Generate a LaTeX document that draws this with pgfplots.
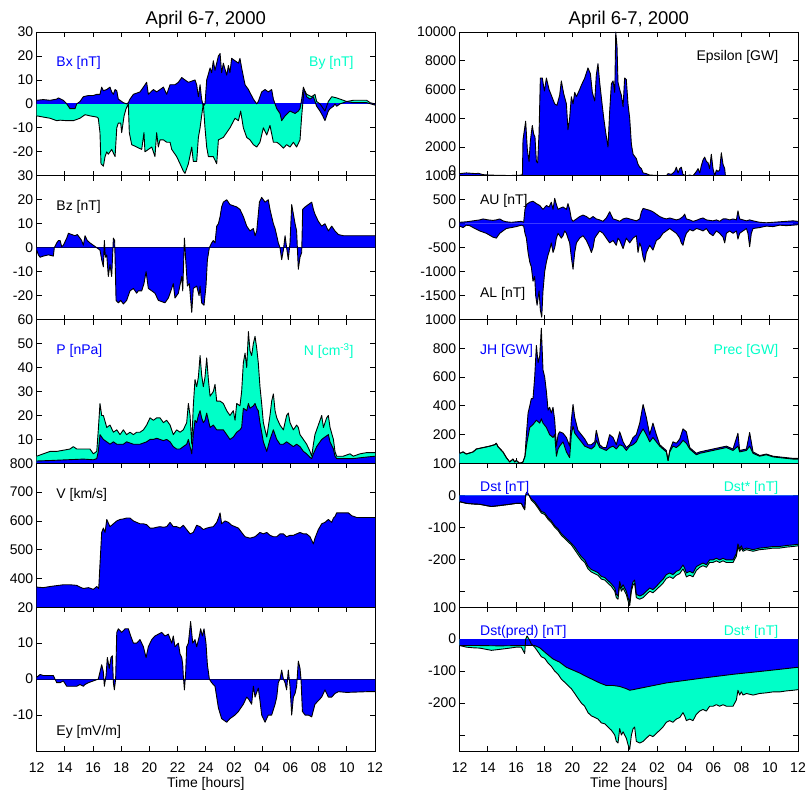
\documentclass[border=0pt]{standalone}
\usepackage{pgfplots}
\pgfplotsset{compat=1.18}
\usepackage{pgfplotstable}
\usepackage{fontspec}
\setmainfont{Liberation Sans}
\definecolor{cb}{RGB}{0,0,255}
\definecolor{cc}{RGB}{0,255,200}
\definecolor{zl}{RGB}{0,0,110}

% ---------------- Left column ----------------
\pgfplotstableread[row sep=\\]{t v\\
12.00 -5\\ 12.47 -5.5\\ 12.95 -6\\ 13.42 -7\\ 13.66 -6.8\\ 14.13 -7\\ 14.60 -7\\ 15.07 -6\\ 15.43 -4.5\\ 15.78 -5\\ 16.26 -5.5\\ 16.37 -6\\
16.49 -12\\ 16.56 -25\\ 16.73 -26\\ 16.85 -22\\ 16.97 -20\\ 17.08 -21\\ 17.32 -19\\ 17.56 -22\\ 17.68 -10\\ 17.79 -8\\ 17.96 -8\\ 18.03 -12\\
18.20 -5\\ 18.34 -2\\ 18.50 0\\ 18.57 -12\\ 18.74 -17\\ 19.09 -18\\ 19.45 -19\\ 19.61 -12\\ 19.68 -20\\ 19.92 -19\\ 20.16 -18\\ 20.28 -20\\
20.39 -22\\ 20.51 -12\\ 20.63 -18\\ 20.75 -15\\ 20.99 -15\\ 21.22 -16\\ 21.46 -16\\ 21.58 -19\\ 21.93 -22\\ 22.17 -25\\ 22.40 -28\\ 22.52 -29\\
22.76 -25\\ 23.00 -18\\ 23.11 -24\\ 23.35 -24\\ 23.47 -14\\ 23.59 -10\\ 23.70 -5\\ 23.82 0\\ 23.94 -10\\ 24.06 -18\\ 24.18 -22\\ 24.53 -22\\
24.77 -25\\ 24.89 -15\\ 25.24 -14\\ 25.71 -10\\ 26.07 -6\\ 26.31 -7\\ 26.47 -3\\ 26.66 -10\\ 26.90 -14\\ 27.13 -15\\ 27.37 -17\\ 27.61 -18\\
27.84 -16\\ 28.08 -10\\ 28.32 -13\\ 28.55 -9\\ 28.79 -16\\ 29.03 -16\\ 29.26 -17\\ 29.50 -18.5\\ 29.73 -17\\ 29.97 -18\\ 30.21 -16\\ 30.44 -18\\
30.68 -15\\ 30.80 -5\\ 30.92 3\\ 30.97 6\\ 31.15 4\\ 31.51 3\\ 31.74 4\\ 31.86 1\\ 32.10 0\\ 32.45 -3\\ 32.69 1\\ 32.93 3\\ 33.28 2.5\\ 33.52 2\\
33.99 1\\ 34.46 1.5\\ 34.94 1.5\\ 35.41 1.5\\ 35.65 0.5\\ 36.00 0\\
}\tBy

\pgfplotstableread[row sep=\\]{t v\\
12.00 1.5\\ 12.47 1.8\\ 12.95 1.5\\ 13.42 2\\ 13.54 2.5\\ 13.89 1.5\\ 14.13 0\\ 14.36 -2\\ 14.72 -2\\ 14.84 0\\ 15.07 1\\ 15.31 3\\ 15.67 3.5\\
16.02 3.5\\ 16.26 4\\ 16.49 4\\ 16.61 7\\ 16.73 5.5\\ 16.97 6\\ 17.20 7\\ 17.32 5\\ 17.44 4\\ 17.56 6\\ 17.68 5.5\\ 17.79 2\\ 18.15 0.5\\ 18.38 0\\
18.50 0.5\\ 18.62 2\\ 18.86 4\\ 19.33 5\\ 19.57 7\\ 19.80 9\\ 19.92 4\\ 20.28 6\\ 20.51 5\\ 20.99 7\\ 21.22 4\\ 21.46 8\\ 21.81 8\\ 22.05 9\\
22.29 11\\ 22.52 10\\ 22.76 9\\ 23.00 9.5\\ 23.23 10\\ 23.35 8\\ 23.47 3\\ 23.59 8\\ 23.70 2\\ 23.82 -1\\ 23.94 0\\ 24.06 10\\ 24.30 15\\
24.41 13\\ 24.53 18\\ 24.65 14\\ 24.89 20\\ 25.01 21\\ 25.12 13\\ 25.24 17\\ 25.48 12\\ 25.60 16\\ 25.71 13\\ 25.83 19\\ 26.07 18\\ 26.31 17\\
26.42 19\\ 26.54 15\\ 26.78 8\\ 27.02 6\\ 27.37 2\\ 27.61 0\\ 27.72 1\\ 27.96 5\\ 28.20 6\\ 28.43 5\\ 28.67 6\\ 28.79 2\\ 28.91 0\\ 29.03 -2\\
29.26 -4\\ 29.38 -7\\ 29.62 -5\\ 29.97 -3\\ 30.33 -4\\ 30.56 -3\\ 30.68 -2\\ 30.80 2\\ 30.92 7\\ 31.04 5\\ 31.15 3\\ 31.39 2\\ 31.63 3\\ 31.86 -1\\
32.10 -3\\ 32.29 -5\\ 32.45 -7\\ 32.69 -3\\ 32.81 -2\\ 33.05 -1\\ 33.16 0\\ 33.28 -1\\ 33.52 0\\ 33.99 1\\ 34.46 0.5\\ 34.94 0.5\\ 35.41 0.5\\ 36.00 -0.5\\
}\tBx

\pgfplotstableread[row sep=\\]{t v\\
12.00 -1\\ 12.12 -3\\ 12.24 -4\\ 12.47 -3.5\\ 12.83 -3\\ 13.18 -3.5\\ 13.25 0\\ 13.42 2\\ 13.54 3\\ 13.66 3\\ 13.77 0.5\\ 13.89 1\\ 14.13 4\\
14.25 6\\ 14.48 5.5\\ 14.72 5\\ 14.88 5.5\\ 15.07 4\\ 15.19 3\\ 15.31 1\\ 15.43 5\\ 15.59 3\\ 15.78 2\\ 16.14 0.5\\ 16.26 0\\ 16.49 -1\\ 16.61 -5\\
16.73 -8\\ 16.80 3\\ 16.87 -4\\ 16.97 -3\\ 17.08 -12\\ 17.20 -7\\ 17.32 -12\\ 17.44 4\\ 17.53 3\\ 17.63 -22\\ 17.79 -23\\ 17.96 -22\\ 18.15 -23.5\\
18.38 -22\\ 18.62 -18\\ 18.86 -17\\ 19.09 -19\\ 19.21 -18\\ 19.45 -18\\ 19.61 -15\\ 19.76 -10\\ 19.92 -17\\ 20.16 -18\\ 20.39 -19\\ 20.63 -22\\
20.87 -22.5\\ 21.10 -23\\ 21.34 -21\\ 21.46 -19\\ 21.69 -15\\ 21.81 -21\\ 22.05 -19\\ 22.29 -12\\ 22.36 -18\\ 22.48 4\\ 22.57 -5\\ 22.69 -16\\
22.83 -15\\ 23.00 -27\\ 23.11 -17\\ 23.35 -16\\ 23.52 -20\\ 23.59 -16\\ 23.70 -23\\ 23.87 -24\\ 24.01 -16\\ 24.11 -5\\ 24.25 0\\ 24.41 2\\ 24.53 3\\
24.65 2\\ 24.77 9\\ 24.89 10\\ 25.01 13\\ 25.12 17\\ 25.24 19\\ 25.48 20\\ 25.71 18\\ 25.95 17.5\\ 26.19 17\\ 26.42 16\\ 26.66 13\\ 26.90 9\\
27.13 7\\ 27.37 8\\ 27.49 5\\ 27.61 7\\ 27.80 19\\ 27.96 21\\ 28.20 19\\ 28.43 20\\ 28.55 16\\ 28.79 10\\ 28.91 8\\ 29.03 5\\ 29.14 2\\ 29.26 0\\
29.38 -5\\ 29.50 -1\\ 29.62 5\\ 29.73 0\\ 29.85 -5\\ 29.97 2\\ 30.09 18\\ 30.21 14\\ 30.33 10\\ 30.44 7\\ 30.56 -9\\ 30.68 -4\\ 30.80 -2\\ 30.87 16\\
31.04 17\\ 31.27 18\\ 31.51 19\\ 31.63 16\\ 31.74 14\\ 31.98 11\\ 32.22 9\\ 32.45 10\\ 32.69 7\\ 32.93 9\\ 33.16 7\\ 33.40 5.5\\ 33.75 5\\ 34.46 5\\
35.17 5\\ 36.00 5\\
}\tBz

\pgfplotstableread[row sep=\\]{t v\\
12.00 3\\ 12.47 4\\ 12.95 5\\ 13.42 5\\ 13.89 5.5\\ 14.36 6\\ 14.60 7\\ 14.84 6\\ 15.31 6\\ 15.78 6\\ 16.02 4\\ 16.26 5\\ 16.37 14\\ 16.49 25\\
16.61 20\\ 16.73 20\\ 16.97 15\\ 17.20 16\\ 17.44 13\\ 17.68 14\\ 17.91 12\\ 18.15 14\\ 18.38 12\\ 18.62 13\\ 18.86 12\\ 19.09 13\\ 19.33 13\\
19.57 14\\ 19.80 16\\ 20.04 19\\ 20.28 18\\ 20.51 19\\ 20.75 19\\ 20.99 17\\ 21.22 18\\ 21.46 16\\ 21.69 12\\ 21.93 14\\ 22.17 13\\ 22.40 14\\
22.64 17\\ 22.76 25\\ 22.88 20\\ 23.00 8\\ 23.11 24\\ 23.23 35\\ 23.35 32\\ 23.47 36\\ 23.59 45\\ 23.70 37\\ 23.82 32\\ 23.94 36\\ 24.06 44\\
24.18 35\\ 24.30 28\\ 24.53 30\\ 24.65 33\\ 24.77 26\\ 25.01 26\\ 25.24 25\\ 25.48 22\\ 25.71 20\\ 25.95 22\\ 26.07 18\\ 26.19 25\\ 26.42 24\\
26.54 30\\ 26.66 42\\ 26.78 46\\ 26.90 40\\ 27.02 55\\ 27.13 47\\ 27.25 45\\ 27.37 50\\ 27.49 53\\ 27.61 48\\ 27.72 42\\ 27.84 32\\ 27.96 25\\
28.08 17\\ 28.32 11\\ 28.55 20\\ 28.67 26\\ 28.79 29\\ 28.91 22\\ 29.03 19\\ 29.26 16\\ 29.50 14\\ 29.73 20\\ 29.85 21\\ 29.97 17\\ 30.21 14\\
30.44 16\\ 30.56 15\\ 30.68 12\\ 30.92 10\\ 31.15 8\\ 31.39 5\\ 31.51 3\\ 31.63 8\\ 31.74 12\\ 31.98 16\\ 32.22 20\\ 32.34 15\\ 32.57 19\\ 32.69 20\\
32.81 15\\ 33.05 10\\ 33.16 5\\ 33.28 3\\ 33.75 3\\ 34.23 4\\ 34.46 3\\ 34.94 4\\ 35.41 4.5\\ 36.00 4.5\\
}\tN

\pgfplotstableread[row sep=\\]{t v\\
12.00 1\\ 12.95 1.2\\ 14.13 1.5\\ 15.31 1.8\\ 16.02 1.5\\ 16.26 2\\ 16.37 5\\ 16.49 12\\ 16.73 10\\ 16.97 9\\ 17.20 8\\ 17.44 9\\ 17.68 8\\
18.15 8\\ 18.38 9\\ 18.86 8\\ 19.33 8\\ 19.80 9\\ 20.04 10\\ 20.28 10\\ 20.51 10.5\\ 20.75 10\\ 20.99 9.5\\ 21.22 10\\ 21.46 9\\ 21.69 7\\ 21.93 6\\
22.17 6\\ 22.40 7\\ 22.64 8\\ 22.76 10\\ 22.88 7\\ 23.00 4\\ 23.11 12\\ 23.23 18\\ 23.35 17\\ 23.47 20\\ 23.59 22\\ 23.70 19\\ 23.82 17\\ 23.94 18\\
24.06 21\\ 24.18 18\\ 24.30 15\\ 24.53 16\\ 24.77 14\\ 25.01 14\\ 25.24 14\\ 25.48 12\\ 25.71 10\\ 25.95 11\\ 26.19 13\\ 26.42 14\\ 26.54 15\\
26.66 23\\ 26.90 22\\ 27.02 25\\ 27.13 23\\ 27.37 24\\ 27.49 25\\ 27.61 23\\ 27.72 22\\ 27.84 17\\ 27.96 13\\ 28.08 9\\ 28.32 5\\ 28.55 10\\ 28.79 14\\
28.91 12\\ 29.03 10\\ 29.26 8\\ 29.50 8\\ 29.73 9\\ 29.97 8\\ 30.21 7\\ 30.44 8\\ 30.68 7\\ 30.92 5\\ 31.15 4\\ 31.39 2.5\\ 31.51 2\\ 31.63 4\\
31.86 7\\ 32.10 9\\ 32.22 10\\ 32.45 11\\ 32.69 12\\ 32.81 9\\ 33.05 6\\ 33.16 3\\ 33.28 2\\ 33.75 2\\ 34.46 2\\ 35.17 2.5\\ 36.00 3\\
}\tP

\pgfplotstableread[row sep=\\]{t v\\
12.00 370\\ 12.47 368\\ 12.95 372\\ 13.42 375\\ 13.89 378\\ 14.36 378\\ 14.84 376\\ 15.07 370\\ 15.31 365\\ 15.67 368\\ 16.02 362\\ 16.26 372\\
16.40 365\\ 16.49 450\\ 16.61 560\\ 16.73 575\\ 16.85 560\\ 16.97 605\\ 17.20 580\\ 17.44 590\\ 17.68 600\\ 17.91 605\\ 18.15 607\\ 18.38 610\\
18.62 610\\ 18.86 600\\ 19.09 595\\ 19.33 590\\ 19.57 590\\ 19.80 587\\ 20.04 575\\ 20.28 575\\ 20.51 578\\ 20.75 580\\ 20.99 578\\ 21.22 580\\
21.46 595\\ 21.69 580\\ 21.93 580\\ 22.17 575\\ 22.40 585\\ 22.64 570\\ 22.88 555\\ 23.11 560\\ 23.35 585\\ 23.59 580\\ 23.82 570\\ 24.06 575\\
24.30 578\\ 24.53 580\\ 24.77 595\\ 24.89 610\\ 25.01 628\\ 25.12 590\\ 25.36 600\\ 25.60 595\\ 25.83 585\\ 26.07 580\\ 26.31 575\\ 26.54 560\\
26.78 545\\ 27.13 540\\ 27.49 545\\ 27.84 560\\ 28.08 555\\ 28.32 560\\ 28.55 550\\ 28.79 545\\ 29.03 545\\ 29.26 555\\ 29.50 555\\ 29.73 545\\
29.97 550\\ 30.21 550\\ 30.44 555\\ 30.68 560\\ 30.92 555\\ 31.15 555\\ 31.39 545\\ 31.63 520\\ 31.74 540\\ 31.98 570\\ 32.22 590\\ 32.45 595\\
32.69 605\\ 32.93 595\\ 33.05 610\\ 33.16 615\\ 33.28 628\\ 33.75 628\\ 34.11 628\\ 34.35 618\\ 34.70 612\\ 35.17 612\\ 35.65 612\\ 36.00 612\\
}\tV

\pgfplotstableread[row sep=\\]{t v\\
12.00 0.5\\ 12.24 1.3\\ 12.47 1.0\\ 12.95 1.0\\ 13.18 1.0\\ 13.30 0\\ 13.42 -1\\ 13.66 -1\\ 13.89 -0.5\\ 14.13 -2\\ 14.48 -2\\ 14.84 -2\\ 15.07 -1.5\\
15.31 -2\\ 15.43 -1.5\\ 15.67 -1\\ 16.02 -0.5\\ 16.37 0\\ 16.49 2\\ 16.61 4\\ 16.73 2\\ 16.80 -2\\ 16.92 1\\ 17.01 6\\ 17.15 3\\ 17.27 6\\ 17.37 6.5\\
17.44 -1\\ 17.51 -3\\ 17.60 0\\ 17.68 13\\ 17.79 14\\ 18.03 13\\ 18.27 14\\ 18.50 14\\ 18.67 12\\ 18.86 10\\ 19.09 10\\ 19.33 11\\ 19.57 9\\ 19.76 6\\
19.92 9\\ 20.16 11\\ 20.39 12\\ 20.63 12.5\\ 20.87 13\\ 21.10 12\\ 21.34 12.5\\ 21.58 10\\ 21.69 12\\ 21.81 9\\ 22.05 10\\ 22.17 7\\ 22.29 6\\ 22.36 4\\
22.40 1\\ 22.48 -3\\ 22.57 2\\ 22.64 9\\ 22.76 10\\ 22.92 16\\ 23.07 10\\ 23.23 11\\ 23.35 9\\ 23.54 12\\ 23.63 14\\ 23.75 12\\ 23.87 14\\ 24.01 10\\
24.11 4\\ 24.25 0\\ 24.41 -1\\ 24.65 -2\\ 24.77 -5\\ 24.89 -8\\ 25.12 -11\\ 25.48 -12\\ 25.71 -11\\ 26.07 -10\\ 26.31 -9\\ 26.66 -7\\ 26.90 -5\\
27.02 -5.5\\ 27.25 -7\\ 27.37 -2\\ 27.49 -5\\ 27.72 -2.5\\ 27.84 -6\\ 27.96 -10\\ 28.20 -12\\ 28.43 -10\\ 28.67 -10\\ 28.91 -7\\ 29.03 -5\\ 29.14 -1\\
29.26 0\\ 29.38 2.5\\ 29.50 0\\ 29.62 -1\\ 29.73 -3\\ 29.85 2.5\\ 29.97 -2\\ 30.09 -10\\ 30.21 -5\\ 30.33 -4\\ 30.44 -2\\ 30.56 5\\ 30.68 3\\ 30.75 0\\
30.85 -9\\ 31.04 -10\\ 31.27 -10\\ 31.51 -10.5\\ 31.74 -7\\ 31.98 -6\\ 32.22 -5\\ 32.45 -3\\ 32.69 -5\\ 32.93 -5\\ 33.16 -4\\ 33.40 -3.5\\ 33.99 -3.7\\
34.70 -3.6\\ 35.41 -3.5\\ 36.00 -3.5\\
}\tEy

% ---------------- Right column ----------------
\pgfplotstableread[row sep=\\]{t v\\
12.00 150\\ 12.47 200\\ 13.18 150\\ 13.30 180\\ 13.66 80\\ 14.13 50\\ 14.84 30\\ 15.55 20\\ 16.26 40\\ 16.37 50\\ 16.45 100\\ 16.49 2500\\
16.68 3800\\ 16.80 1800\\ 16.92 1000\\ 17.01 2400\\ 17.15 3500\\ 17.25 2900\\ 17.34 2700\\ 17.44 1000\\ 17.53 900\\ 17.63 3000\\ 17.72 6800\\
17.86 6800\\ 18.01 5900\\ 18.15 6800\\ 18.34 6000\\ 18.50 5600\\ 18.74 5000\\ 18.90 4900\\ 19.09 5600\\ 19.21 6600\\ 19.38 5700\\ 19.57 5000\\
19.68 3200\\ 19.80 4000\\ 19.92 5500\\ 20.04 5000\\ 20.16 5800\\ 20.28 5500\\ 20.51 6000\\ 20.63 6300\\ 20.87 6800\\ 21.10 7500\\ 21.27 7100\\
21.41 5800\\ 21.58 5200\\ 21.69 7000\\ 21.81 7800\\ 21.93 6500\\ 22.10 5000\\ 22.22 4000\\ 22.36 3000\\ 22.52 2000\\ 22.64 4500\\ 22.76 6400\\
22.88 6600\\ 23.00 5800\\ 23.07 10000\\ 23.16 9000\\ 23.23 6500\\ 23.35 6000\\ 23.47 5600\\ 23.59 4800\\ 23.70 6800\\ 23.82 6700\\ 23.94 5000\\
24.06 4000\\ 24.18 2200\\ 24.30 1500\\ 24.53 1200\\ 24.65 800\\ 24.77 600\\ 24.89 500\\ 25.01 200\\ 25.24 150\\ 25.48 50\\ 25.95 30\\ 26.66 0\\
26.78 150\\ 27.02 100\\ 27.25 300\\ 27.37 600\\ 27.49 200\\ 27.61 500\\ 27.72 600\\ 27.84 100\\ 28.08 0\\ 28.32 50\\ 28.55 0\\ 28.79 300\\ 28.91 500\\
29.03 200\\ 29.14 700\\ 29.26 1100\\ 29.38 1300\\ 29.50 1000\\ 29.62 900\\ 29.73 500\\ 29.85 1500\\ 29.97 500\\ 30.09 0\\ 30.21 400\\ 30.33 300\\
30.44 400\\ 30.56 1600\\ 30.68 800\\ 30.80 500\\ 30.85 0\\
}\tEps

\pgfplotstableread[row sep=\\]{t v\\
12.00 30\\ 12.47 40\\ 12.95 60\\ 13.42 80\\ 13.66 100\\ 14.01 80\\ 14.36 70\\ 14.60 80\\ 14.84 100\\ 15.07 60\\ 15.31 40\\ 15.67 30\\ 16.02 40\\
16.37 50\\ 16.54 30\\ 16.63 300\\ 16.73 400\\ 16.97 450\\ 17.20 470\\ 17.44 420\\ 17.68 380\\ 17.91 300\\ 18.15 380\\ 18.34 350\\ 18.50 450\\
18.62 300\\ 18.74 530\\ 18.86 400\\ 18.98 300\\ 19.09 320\\ 19.33 350\\ 19.57 300\\ 19.68 420\\ 19.80 300\\ 19.92 100\\ 20.04 50\\ 20.28 100\\
20.51 150\\ 20.75 180\\ 20.99 150\\ 21.22 100\\ 21.46 150\\ 21.69 100\\ 21.93 80\\ 22.17 50\\ 22.40 120\\ 22.64 250\\ 22.88 100\\ 23.11 80\\
23.35 50\\ 23.59 100\\ 23.82 120\\ 24.06 100\\ 24.30 80\\ 24.53 60\\ 24.77 100\\ 24.89 250\\ 25.01 320\\ 25.24 300\\ 25.48 280\\ 25.71 250\\
25.95 200\\ 26.19 150\\ 26.42 120\\ 26.66 100\\ 26.90 120\\ 27.13 100\\ 27.37 80\\ 27.61 100\\ 27.84 150\\ 27.96 200\\ 28.08 100\\ 28.32 80\\
28.55 50\\ 28.79 70\\ 29.03 100\\ 29.26 120\\ 29.50 80\\ 29.73 70\\ 29.97 60\\ 30.21 80\\ 30.44 50\\ 30.68 100\\ 30.92 100\\ 31.15 80\\ 31.39 100\\
31.63 80\\ 31.74 270\\ 31.86 100\\ 32.10 80\\ 32.34 60\\ 32.57 80\\ 32.81 60\\ 33.28 30\\ 33.75 20\\ 34.23 30\\ 34.70 40\\ 35.17 50\\ 35.65 60\\ 36.00 50\\
}\tAU

\pgfplotstableread[row sep=\\]{t v\\
12.00 -50\\ 12.24 -80\\ 12.47 -30\\ 12.71 -40\\ 12.95 -80\\ 13.42 -150\\ 13.89 -200\\ 14.36 -280\\ 14.60 -300\\ 14.84 -200\\ 15.07 -150\\
15.31 -100\\ 15.67 -80\\ 16.02 -60\\ 16.37 -30\\ 16.54 -50\\ 16.63 -200\\ 16.73 -300\\ 16.85 -600\\ 16.97 -800\\ 17.08 -900\\ 17.20 -1200\\
17.32 -1100\\ 17.39 -1500\\ 17.49 -1700\\ 17.63 -1400\\ 17.72 -1800\\ 17.82 -1950\\ 17.91 -1400\\ 18.03 -1000\\ 18.15 -800\\ 18.27 -650\\
18.38 -550\\ 18.50 -400\\ 18.62 -600\\ 18.74 -500\\ 18.86 -300\\ 18.98 -200\\ 19.09 -250\\ 19.21 -300\\ 19.33 -250\\ 19.45 -150\\ 19.57 -200\\
19.68 -300\\ 19.80 -400\\ 19.92 -700\\ 20.04 -950\\ 20.16 -600\\ 20.28 -400\\ 20.51 -300\\ 20.75 -250\\ 20.99 -350\\ 21.22 -500\\ 21.34 -600\\
21.46 -500\\ 21.58 -300\\ 21.69 -250\\ 21.93 -150\\ 22.17 -200\\ 22.40 -300\\ 22.64 -400\\ 22.88 -350\\ 23.11 -450\\ 23.23 -300\\ 23.35 -350\\
23.59 -520\\ 23.82 -300\\ 24.06 -400\\ 24.30 -300\\ 24.53 -250\\ 24.65 -600\\ 24.77 -400\\ 24.89 -500\\ 25.01 -700\\ 25.12 -800\\ 25.24 -600\\
25.48 -450\\ 25.71 -550\\ 25.95 -350\\ 26.19 -300\\ 26.42 -200\\ 26.66 -150\\ 26.90 -100\\ 27.13 -150\\ 27.37 -200\\ 27.61 -300\\ 27.72 -400\\
27.84 -450\\ 27.96 -300\\ 28.08 -200\\ 28.32 -120\\ 28.55 -150\\ 28.79 -100\\ 29.03 -120\\ 29.26 -150\\ 29.50 -100\\ 29.73 -200\\ 29.97 -250\\
30.21 -150\\ 30.44 -200\\ 30.68 -280\\ 30.80 -400\\ 30.92 -200\\ 31.15 -150\\ 31.39 -200\\ 31.63 -150\\ 31.74 -320\\ 31.86 -200\\ 32.10 -150\\
32.34 -100\\ 32.45 -200\\ 32.57 -480\\ 32.69 -200\\ 32.81 -100\\ 33.28 -80\\ 33.75 -50\\ 34.23 -60\\ 34.70 -30\\ 35.17 -40\\ 35.65 -30\\ 36.00 -20\\
}\tAL

\pgfplotstableread[row sep=\\]{t v\\
12.00 70\\ 12.24 80\\ 12.47 65\\ 12.95 80\\ 13.18 100\\ 13.66 110\\ 14.13 120\\ 14.48 130\\ 14.60 140\\ 14.72 115\\ 15.07 80\\ 15.31 40\\
15.55 10\\ 15.78 30\\ 15.90 10\\ 16.02 20\\ 16.26 0\\ 16.49 10\\ 16.63 50\\ 16.73 200\\ 16.85 350\\ 16.97 400\\ 17.08 450\\ 17.20 450\\ 17.32 600\\
17.44 820\\ 17.56 700\\ 17.68 750\\ 17.79 940\\ 17.91 650\\ 18.03 600\\ 18.15 500\\ 18.27 370\\ 18.38 390\\ 18.50 350\\ 18.62 390\\ 18.74 300\\
18.86 120\\ 18.98 200\\ 19.09 220\\ 19.33 210\\ 19.57 180\\ 19.80 120\\ 19.92 300\\ 20.04 410\\ 20.16 320\\ 20.39 230\\ 20.63 200\\ 20.87 170\\
21.10 130\\ 21.34 130\\ 21.58 150\\ 21.69 230\\ 21.93 130\\ 22.17 110\\ 22.40 110\\ 22.64 200\\ 22.88 180\\ 23.11 130\\ 23.35 220\\ 23.59 150\\
23.82 110\\ 24.06 130\\ 24.30 180\\ 24.53 200\\ 24.77 280\\ 25.01 410\\ 25.24 320\\ 25.48 200\\ 25.71 280\\ 25.95 200\\ 26.19 130\\ 26.42 110\\
26.66 90\\ 26.78 20\\ 26.90 90\\ 27.13 150\\ 27.37 140\\ 27.61 170\\ 27.84 240\\ 28.08 220\\ 28.32 110\\ 28.55 90\\ 28.79 70\\ 29.03 80\\ 29.50 90\\
29.97 100\\ 30.44 110\\ 30.92 120\\ 31.39 100\\ 31.74 210\\ 31.86 90\\ 32.34 100\\ 32.57 215\\ 32.81 80\\ 33.28 55\\ 33.75 65\\ 34.23 50\\ 34.70 45\\
35.17 40\\ 35.65 35\\ 36.00 35\\
}\tJH

\pgfplotstableread[row sep=\\]{t v\\
12.00 70\\ 12.24 80\\ 12.47 65\\ 12.95 80\\ 13.18 100\\ 13.66 110\\ 14.13 120\\ 14.48 130\\ 14.60 140\\ 14.72 115\\ 15.07 80\\ 15.31 40\\
15.55 10\\ 15.78 30\\ 15.90 10\\ 16.02 20\\ 16.26 0\\ 16.49 10\\ 16.63 50\\ 16.78 150\\ 16.97 250\\ 17.20 270\\ 17.44 300\\ 17.68 280\\ 17.79 310\\
17.91 280\\ 18.15 250\\ 18.38 200\\ 18.62 180\\ 18.74 200\\ 18.86 50\\ 18.98 100\\ 19.09 120\\ 19.33 150\\ 19.57 80\\ 19.80 40\\ 19.92 200\\
20.04 260\\ 20.16 210\\ 20.39 180\\ 20.63 150\\ 20.87 120\\ 21.10 110\\ 21.34 100\\ 21.58 120\\ 21.69 160\\ 21.93 110\\ 22.17 100\\ 22.40 90\\
22.64 110\\ 22.88 120\\ 23.11 100\\ 23.35 130\\ 23.59 120\\ 23.82 90\\ 24.06 120\\ 24.30 130\\ 24.53 150\\ 24.77 200\\ 25.01 240\\ 25.24 200\\
25.48 150\\ 25.71 180\\ 25.95 150\\ 26.19 120\\ 26.42 100\\ 26.66 80\\ 26.78 20\\ 26.90 80\\ 27.13 120\\ 27.37 110\\ 27.61 130\\ 27.84 160\\
28.08 140\\ 28.32 100\\ 28.55 80\\ 28.79 60\\ 29.03 70\\ 29.50 80\\ 29.97 90\\ 30.44 100\\ 30.92 110\\ 31.39 90\\ 31.74 120\\ 31.86 80\\ 32.34 90\\
32.57 120\\ 32.81 70\\ 33.28 50\\ 33.75 60\\ 34.23 45\\ 34.70 40\\ 35.17 35\\ 35.65 30\\ 36.00 30\\
}\tPrec

\pgfplotstableread[row sep=\\]{t v\\
12.00 -20\\ 12.47 -25\\ 12.95 -27\\ 13.42 -28\\ 13.89 -32\\ 14.25 -35\\ 14.84 -32\\ 15.55 -28\\ 16.02 -25\\ 16.37 -25\\ 16.49 -35\\ 16.61 -45\\
16.68 0\\ 16.78 10\\ 16.92 0\\ 17.08 -15\\ 17.32 -25\\ 17.56 -40\\ 17.79 -55\\ 18.03 -60\\ 18.27 -75\\ 18.50 -85\\ 18.74 -100\\ 18.98 -110\\
19.21 -125\\ 19.45 -135\\ 19.68 -145\\ 19.92 -155\\ 20.16 -170\\ 20.39 -185\\ 20.63 -200\\ 20.87 -210\\ 21.10 -230\\ 21.34 -240\\ 21.58 -245\\
21.81 -250\\ 22.05 -262\\ 22.29 -265\\ 22.52 -275\\ 22.76 -285\\ 23.00 -300\\ 23.11 -320\\ 23.23 -325\\ 23.35 -280\\ 23.47 -300\\ 23.59 -290\\
23.70 -300\\ 23.82 -310\\ 23.94 -330\\ 24.06 -345\\ 24.18 -300\\ 24.30 -280\\ 24.41 -275\\ 24.53 -320\\ 24.77 -325\\ 25.01 -320\\ 25.24 -310\\
25.48 -300\\ 25.71 -305\\ 25.95 -295\\ 26.19 -285\\ 26.42 -275\\ 26.66 -260\\ 26.90 -255\\ 27.13 -260\\ 27.37 -250\\ 27.61 -245\\ 27.84 -230\\
27.96 -240\\ 28.08 -255\\ 28.32 -250\\ 28.55 -255\\ 28.79 -235\\ 29.03 -225\\ 29.26 -220\\ 29.50 -225\\ 29.73 -210\\ 29.97 -210\\ 30.21 -205\\
30.44 -210\\ 30.68 -205\\ 30.92 -210\\ 31.15 -210\\ 31.39 -210\\ 31.63 -190\\ 31.74 -160\\ 31.86 -175\\ 31.98 -165\\ 32.10 -175\\ 32.34 -170\\
32.81 -175\\ 33.28 -170\\ 33.75 -168\\ 34.23 -165\\ 34.70 -165\\ 35.17 -162\\ 35.65 -160\\ 36.00 -158\\
}\tDstS

\pgfplotstableread[row sep=\\]{t v\\
12.00 -20\\ 12.47 -25\\ 12.95 -27\\ 13.42 -28\\ 13.89 -32\\ 14.25 -35\\ 14.84 -32\\ 15.55 -28\\ 16.02 -25\\ 16.37 -25\\ 16.49 -35\\ 16.61 -45\\
16.68 0\\ 16.78 10\\ 16.92 0\\ 17.08 -11\\ 17.32 -20\\ 17.56 -35\\ 17.79 -50\\ 18.03 -55\\ 18.27 -70\\ 18.50 -80\\ 18.74 -95\\ 18.98 -105\\
19.21 -120\\ 19.45 -130\\ 19.68 -140\\ 19.92 -150\\ 20.16 -162\\ 20.39 -177\\ 20.63 -192\\ 20.87 -202\\ 21.10 -222\\ 21.34 -232\\ 21.58 -237\\
21.81 -242\\ 22.05 -254\\ 22.29 -257\\ 22.52 -267\\ 22.76 -277\\ 23.00 -290\\ 23.11 -310\\ 23.23 -315\\ 23.35 -270\\ 23.47 -290\\ 23.59 -280\\
23.70 -290\\ 23.82 -300\\ 23.94 -320\\ 24.06 -335\\ 24.18 -290\\ 24.30 -270\\ 24.41 -265\\ 24.53 -310\\ 24.77 -315\\ 25.01 -310\\ 25.24 -300\\
25.48 -290\\ 25.71 -295\\ 25.95 -285\\ 26.19 -273\\ 26.42 -263\\ 26.66 -248\\ 26.90 -243\\ 27.13 -248\\ 27.37 -238\\ 27.61 -233\\ 27.84 -218\\
27.96 -228\\ 28.08 -243\\ 28.32 -238\\ 28.55 -243\\ 28.79 -223\\ 29.03 -217\\ 29.26 -212\\ 29.50 -217\\ 29.73 -202\\ 29.97 -202\\ 30.21 -197\\
30.44 -202\\ 30.68 -197\\ 30.92 -202\\ 31.15 -202\\ 31.39 -202\\ 31.63 -182\\ 31.74 -152\\ 31.86 -168\\ 31.98 -158\\ 32.10 -170\\ 32.34 -165\\
32.81 -170\\ 33.28 -165\\ 33.75 -163\\ 34.23 -160\\ 34.70 -160\\ 35.17 -157\\ 35.65 -155\\ 36.00 -153\\
}\tDst

\pgfplotstableread[row sep=\\]{t v\\
12.00 -20\\ 13.42 -20\\ 14.84 -21\\ 16.26 -20\\ 16.78 -20\\ 17.32 -20\\ 17.68 -27\\ 18.15 -45\\ 18.62 -62\\ 19.09 -72\\ 19.57 -88\\ 20.04 -97\\
20.51 -106\\ 20.99 -117\\ 21.46 -127\\ 21.93 -137\\ 22.40 -145\\ 22.88 -145\\ 23.35 -148\\ 23.82 -155\\ 24.06 -160\\ 24.30 -158\\ 26.66 -137\\
29.03 -123\\ 31.39 -110\\ 33.75 -99\\ 36.00 -88\\
}\tDstP

\newcommand{\fs}{\fontsize{14}{16}\selectfont}

\pgfplotsset{
  panel/.style={scale only axis, width=338.3pt, height=143.8pt, anchor=north west,
    xmin=12, xmax=36, xtick={12,14,...,36}, xticklabels={},
    scaled ticks=false,
    tick align=inside, major tick length=5pt,
    axis line style={line width=0.8pt}, every tick/.style={black, line width=0.8pt},
    ticklabel style={font=\fs}, clip mode=individual},
  bottompanel/.style={xticklabels={12,14,16,18,20,22,24,02,04,06,08,10,12},
    xticklabel style={anchor=base, yshift=-21pt}},
  fillp/.style={draw=none, fill=#1},
  linep/.style={black, line width=0.9pt, line join=round},
}

\begin{document}
\begin{tikzpicture}
\useasboundingbox (0,0) rectangle (806pt,-791pt);

% ===== Left column =====
\begin{axis}[panel, at={(36.7pt,-32pt)}, ymin=-30, ymax=30,
  ytick={-30,-20,...,30}, yticklabels={,-20,-10,0,10,20,30}]
  \addplot[fillp=cc] table {\tBy} \closedcycle;
  \addplot[fillp=cb] table {\tBx} \closedcycle;
  \addplot[cb, line width=1.2pt] coordinates {(12,0) (36,0)};
  \addplot[linep] table {\tBy};
  \addplot[linep] table {\tBx};
  \node[anchor=west, text=cb, font=\fs] at (rel axis cs:0.048,0.784) {Bx [nT]};
  \node[anchor=east, text=cc, font=\fs] at (rel axis cs:0.947,0.784) {By [nT]};
  \node[anchor=base, font=\fontsize{18.5}{20}\selectfont] at (rel axis cs:0.5,1) [yshift=7pt] {April 6-7, 2000};
\end{axis}

\begin{axis}[panel, at={(36.7pt,-175.8pt)}, ymin=-30, ymax=30,
  ytick={-30,-20,...,30}, yticklabels={,-20,-10,0,10,20,30}]
  \addplot[fillp=cb] table {\tBz} \closedcycle;
  \addplot[zl, line width=0.8pt] coordinates {(12,0) (36,0)};
  \addplot[linep] table {\tBz};
  \node[anchor=west, font=\fs] at (rel axis cs:0.048,0.785) {Bz [nT]};
\end{axis}

\begin{axis}[panel, at={(36.7pt,-319.6pt)}, ymin=0, ymax=60,
  ytick={0,10,...,60}, yticklabels={,10,20,30,40,50,60}]
  \addplot[fillp=cc] table {\tN} \closedcycle;
  \addplot[fillp=cb] table {\tP} \closedcycle;
  \addplot[linep] table {\tN};
  \addplot[linep] table {\tP};
  \node[anchor=west, text=cb, font=\fs] at (rel axis cs:0.048,0.782) {P [nPa]};
  \node[anchor=east, text=cc, font=\fs] at (rel axis cs:0.947,0.782) {N [cm\textsuperscript{-3}]};
\end{axis}

\begin{axis}[panel, at={(36.7pt,-463.4pt)}, ymin=300, ymax=800,
  ytick={300,400,...,800}, yticklabels={,400,500,600,700,800}]
  \addplot[fillp=cb] table {\tV} \closedcycle;
  \addplot[linep] table {\tV};
  \node[anchor=west, font=\fs] at (rel axis cs:0.048,0.78) {V [km/s]};
\end{axis}

\begin{axis}[panel, bottompanel, at={(36.7pt,-607.2pt)}, ymin=-20, ymax=20,
  ytick={-20,-10,...,20}, yticklabels={,-10,0,10,20}]
  \addplot[fillp=cb] table {\tEy} \closedcycle;
  \addplot[zl, line width=0.8pt] coordinates {(12,0) (36,0)};
  \addplot[linep] table {\tEy};
  \node[anchor=west, font=\fs] at (rel axis cs:0.048,0.134) {Ey [mV/m]};
  \node[anchor=base, font=\fs] at (rel axis cs:0.5,0) [yshift=-36pt] {Time [hours]};
\end{axis}

% ===== Right column =====
\begin{axis}[panel, at={(459.7pt,-32pt)}, ymin=0, ymax=10000,
  ytick={0,2000,...,10000}, yticklabels={\raisebox{11pt}{0},2000,4000,6000,8000,10000}]
  \addplot[fillp=cb] table {\tEps} \closedcycle;
  \addplot[linep] table {\tEps};
  \node[anchor=east, font=\fs] at (rel axis cs:0.952,0.828) {Epsilon [GW]};
  \node[anchor=base, font=\fontsize{18.5}{20}\selectfont] at (rel axis cs:0.5,1) [yshift=7pt] {April 6-7, 2000};
\end{axis}

\begin{axis}[panel, at={(459.7pt,-175.8pt)}, ymin=-2000, ymax=1000,
  ytick={-2000,-1500,...,1000}, yticklabels={,-1500,-1000,-500,0,500,1000}]
  \addplot[fillp=cb] table {\tAU} \closedcycle;
  \addplot[fillp=cb] table {\tAL} \closedcycle;
  \addplot[linep] table {\tAU};
  \addplot[linep] table {\tAL};
  \node[anchor=west, font=\fs] at (rel axis cs:0.05,0.827) {AU [nT]};
  \node[anchor=west, font=\fs] at (rel axis cs:0.05,0.178) {AL [nT]};
\end{axis}

\begin{axis}[panel, at={(459.7pt,-319.6pt)}, ymin=0, ymax=1000,
  ytick={0,200,...,1000}, yticklabels={,200,400,600,800,1000}]
  \addplot[fillp=cb] table {\tJH} \closedcycle;
  \addplot[fillp=cc] table {\tPrec} \closedcycle;
  \addplot[linep] table {\tJH};
  \addplot[linep] table {\tPrec};
  \node[anchor=west, text=cb, font=\fs] at (rel axis cs:0.05,0.782) {JH [GW]};
  \node[anchor=east, text=cc, font=\fs] at (rel axis cs:0.952,0.782) {Prec [GW]};
\end{axis}

\begin{axis}[panel, at={(459.7pt,-463.4pt)}, ymin=-350, ymax=100,
  ytick={-300,-200,...,100}, yticklabels={,-200,-100,0,100}]
  \addplot[fillp=cc] table {\tDstS} \closedcycle;
  \addplot[fillp=cb] table {\tDst} \closedcycle;
  \addplot[linep] table {\tDstS};
  \addplot[linep] table {\tDst};
  \node[anchor=west, text=cb, font=\fs] at (rel axis cs:0.05,0.827) {Dst [nT]};
  \node[anchor=east, text=cc, font=\fs] at (rel axis cs:0.952,0.827) {Dst* [nT]};
\end{axis}

\begin{axis}[panel, bottompanel, at={(459.7pt,-607.2pt)}, ymin=-350, ymax=100,
  ytick={-300,-200,...,100}, yticklabels={,-200,-100,0,100}]
  \addplot[fillp=cc] table {\tDstS} \closedcycle;
  \addplot[fillp=cb] table {\tDstP} \closedcycle;
  \addplot[linep] table {\tDstS};
  \addplot[linep] table {\tDstP};
  \node[anchor=west, text=cb, font=\fs] at (rel axis cs:0.05,0.825) {Dst(pred) [nT]};
  \node[anchor=east, text=cc, font=\fs] at (rel axis cs:0.952,0.825) {Dst* [nT]};
  \node[anchor=base, font=\fs] at (rel axis cs:0.5,0) [yshift=-36pt] {Time [hours]};
\end{axis}
\end{tikzpicture}
\end{document}
